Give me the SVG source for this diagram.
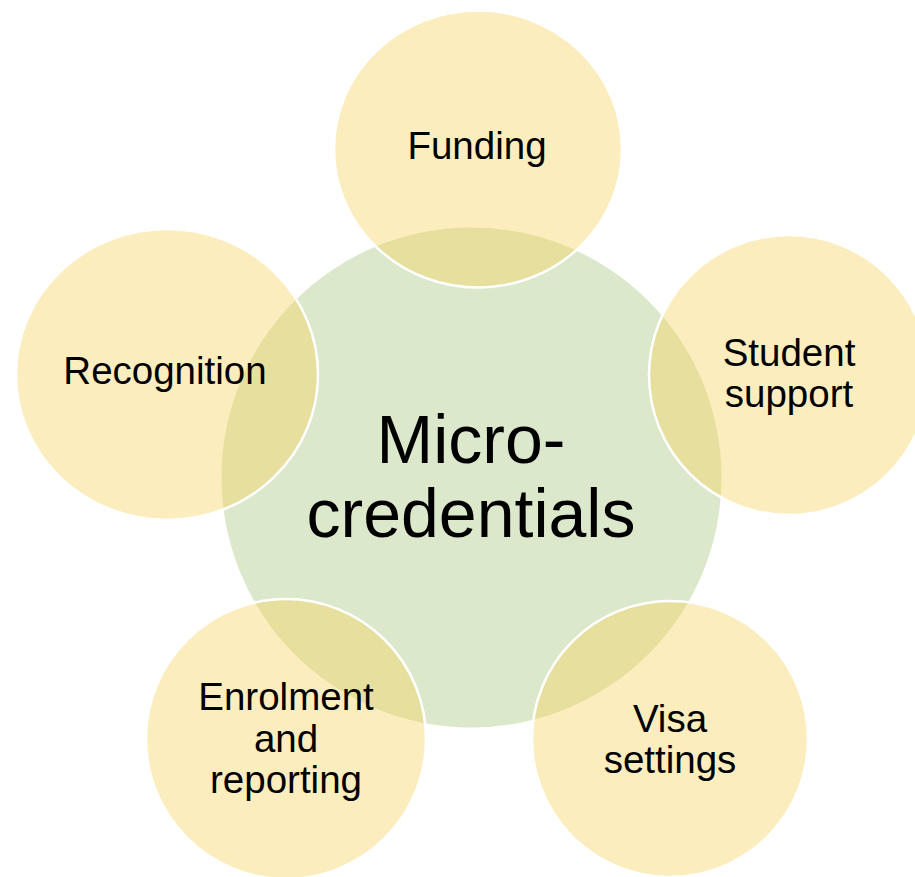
<svg xmlns="http://www.w3.org/2000/svg" width="915" height="877" viewBox="0 0 915 877">
  <style>
    .hub { fill: #dce8cc; }
    .sat { fill: #f5d35a; fill-opacity: 0.4; stroke: #ffffff; stroke-width: 2.5; }
    .lbl { font-family: "Liberation Sans", Arial, sans-serif; font-size: 38.5px; fill: #000000; text-anchor: middle; }
    .big { font-family: "Liberation Sans", Arial, sans-serif; font-size: 68px; fill: #000000; text-anchor: middle; }
  </style>
  <rect width="915" height="877" fill="#ffffff"/>
  <g id="hub">
    <circle class="hub" cx="471.5" cy="477.5" r="250"/>
  </g>
  <g id="connectors"></g>
  <g id="funding">
    <ellipse class="sat" cx="478" cy="149" rx="144" ry="138.5"/>
    <text class="lbl" x="477" y="159">Funding</text>
  </g>
  <g id="student-support">
    <circle class="sat" cx="789" cy="375" r="140"/>
    <text class="lbl" x="789" y="366">Student</text>
    <text class="lbl" x="789" y="407">support</text>
  </g>
  <g id="visa-settings">
    <circle class="sat" cx="670" cy="739" r="138"/>
    <text class="lbl" x="670" y="732">Visa</text>
    <text class="lbl" x="670" y="773">settings</text>
  </g>
  <g id="enrolment-reporting">
    <circle class="sat" cx="286" cy="739" r="140"/>
    <text class="lbl" x="286" y="710">Enrolment</text>
    <text class="lbl" x="286" y="752">and</text>
    <text class="lbl" x="286" y="793">reporting</text>
  </g>
  <g id="recognition">
    <ellipse class="sat" cx="167" cy="374.5" rx="151" ry="145.5"/>
    <text class="lbl" x="165" y="384">Recognition</text>
  </g>
  <g id="hub-label">
    <text class="big" x="471" y="463">Micro-</text>
    <text class="big" x="471" y="537">credentials</text>
  </g>
</svg>
